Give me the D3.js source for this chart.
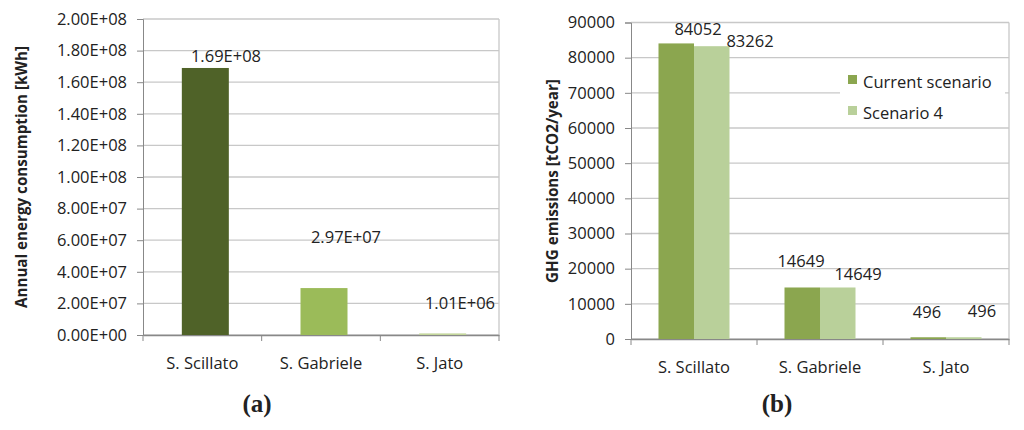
<!DOCTYPE html>
<html><head><meta charset="utf-8">
<script src="https://cdn.jsdelivr.net/npm/d3@7"></script>
<style>body{margin:0;background:#fff}text{font-family:"Open Sans","DejaVu Sans",sans-serif}</style>
</head><body><svg id="c" width="1024" height="430"></svg>
<script>
const sites = ["S. Scillato","S. Gabriele","S. Jato"];
const energy = [1.69e8, 2.97e7, 1.01e6];
const energyLabels = ["1.69E+08","2.97E+07","1.01E+06"];
const energyColors = ["#4f6228","#9bbb59","#c3d69b"];
const energyTicks = [0,2e7,4e7,6e7,8e7,1e8,1.2e8,1.4e8,1.6e8,1.8e8,2e8];
const seriesNames = ["Current scenario","Scenario 4"];
const ghgCurrent = [84052, 14649, 496];
const ghgScen4 = [83262, 14649, 496];
const seriesColors = ["#8ba64f","#b9d09a"];
const ghgTicks = [0,10000,20000,30000,40000,50000,60000,70000,80000,90000];

const svg = d3.select("#c");
const grid = "#c8c8c8", axisC = "#888", FS = 16.5;

function fmtE(v){ if(v===0) return "0.00E+00"; const e=Math.floor(Math.log10(v)); const m=v/Math.pow(10,e); return m.toFixed(2)+"E+"+String(e).padStart(2,"0"); }

function frame(g, x, y, ticks, fmt, L, R, T, B){
  ticks.forEach(t=>{ g.append("line").attr("x1",L).attr("x2",R).attr("y1",y(t)).attr("y2",y(t)).attr("stroke",grid).attr("stroke-width",1.3); });
  g.append("line").attr("x1",R).attr("x2",R).attr("y1",T).attr("y2",B).attr("stroke",grid).attr("stroke-width",1.3);
  const ya = g.append("g").attr("transform",`translate(${L},0)`).call(d3.axisLeft(y).tickValues(ticks).tickFormat(fmt).tickSize(6).tickPadding(10));
  ya.select(".domain").attr("stroke",axisC);
  ya.selectAll(".tick line").attr("stroke",axisC);
  ya.selectAll("text").attr("font-size",FS).attr("fill","#222");
  const xa = g.append("g").attr("transform",`translate(0,${B})`).call(d3.axisBottom(x).tickSize(0).tickPadding(22));
  xa.select(".domain").attr("stroke",axisC).attr("stroke-width",1.3);
  xa.selectAll("text").attr("font-size",FS).attr("fill","#222");
  x.domain().forEach((d,i)=>{ const xx = L + i*x.step(); g.append("line").attr("x1",xx).attr("x2",xx).attr("y1",B).attr("y2",B+6).attr("stroke",axisC); });
  g.append("line").attr("x1",R).attr("x2",R).attr("y1",B).attr("y2",B+6).attr("stroke",axisC);
}
function caption(g,x,t){ g.append("text").attr("x",x).attr("y",412).attr("text-anchor","middle").style("font-family","'Liberation Serif',serif").attr("font-size",25).attr("font-weight","bold").attr("fill","#222").text(t); }

// Chart (a)
{
  const L=143,R=499,T=19,B=335;
  const x=d3.scaleBand().domain(sites).range([L,R]);
  const y=d3.scaleLinear().domain([0,2e8]).range([B,T]);
  const g=svg.append("g");
  frame(g,x,y,energyTicks,fmtE,L,R,T,B);
  const bw=47;
  g.selectAll(".ba").data(sites).enter().append("rect")
    .attr("x",d=>x(d)+x.bandwidth()/2-bw/2+3).attr("width",bw)
    .attr("y",(d,i)=>y(energy[i])).attr("height",(d,i)=>B-y(energy[i]))
    .attr("fill",(d,i)=>energyColors[i]);
  const lx=[226,346,460], ly=[62,243,309];
  energyLabels.forEach((t,i)=>g.append("text").attr("x",lx[i]).attr("y",ly[i]).attr("text-anchor","middle").attr("font-size",FS).attr("fill","#222").text(t));
  g.append("text").attr("transform","translate(27,177) rotate(-90)").attr("text-anchor","middle").attr("font-size",15.2).attr("font-weight","bold").attr("fill","#222").text("Annual energy consumption [kWh]");
  caption(g,257,"(a)");
}

// Chart (b)
{
  const L=631,R=1009,T=22.5,B=339;
  const x=d3.scaleBand().domain(sites).range([L,R]);
  const y=d3.scaleLinear().domain([0,90000]).range([B,T]);
  const g=svg.append("g");
  frame(g,x,y,ghgTicks,d3.format("d"),L,R,T,B);
  const xs=d3.scaleBand().domain(seriesNames).range([0,71]);
  const data=[ghgCurrent,ghgScen4];
  seriesNames.forEach((s,si)=>{
    g.selectAll(".b"+si).data(sites).enter().append("rect")
      .attr("x",d=>x(d)+x.bandwidth()/2-35.5+xs(s)).attr("width",xs.bandwidth())
      .attr("y",(d,i)=>y(data[si][i])).attr("height",(d,i)=>B-y(data[si][i]))
      .attr("fill",seriesColors[si]);
  });
  const lab=[[698,35,ghgCurrent[0]],[750,47,ghgScen4[0]],[801,267,ghgCurrent[1]],[858,280,ghgScen4[1]],[927,318,ghgCurrent[2]],[982,317,ghgScen4[2]]];
  lab.forEach(a=>g.append("text").attr("x",a[0]).attr("y",a[1]).attr("text-anchor","middle").attr("font-size",FS).attr("fill","#222").text(a[2]));
  g.append("rect").attr("x",840).attr("y",64).attr("width",165).attr("height",62).attr("fill","#fff");
  seriesNames.forEach((s,i)=>{
    g.append("rect").attr("x",848).attr("y",75+i*31).attr("width",9).attr("height",9).attr("fill",seriesColors[i]);
    g.append("text").attr("x",863).attr("y",88+i*31).attr("font-size",FS).attr("fill","#222").text(s);
  });
  g.append("text").attr("transform","translate(558,181) rotate(-90)").attr("text-anchor","middle").attr("font-size",15.2).attr("font-weight","bold").attr("fill","#222").text("GHG emissions [tCO2/year]");
  caption(g,777,"(b)");
}
</script></body></html>
